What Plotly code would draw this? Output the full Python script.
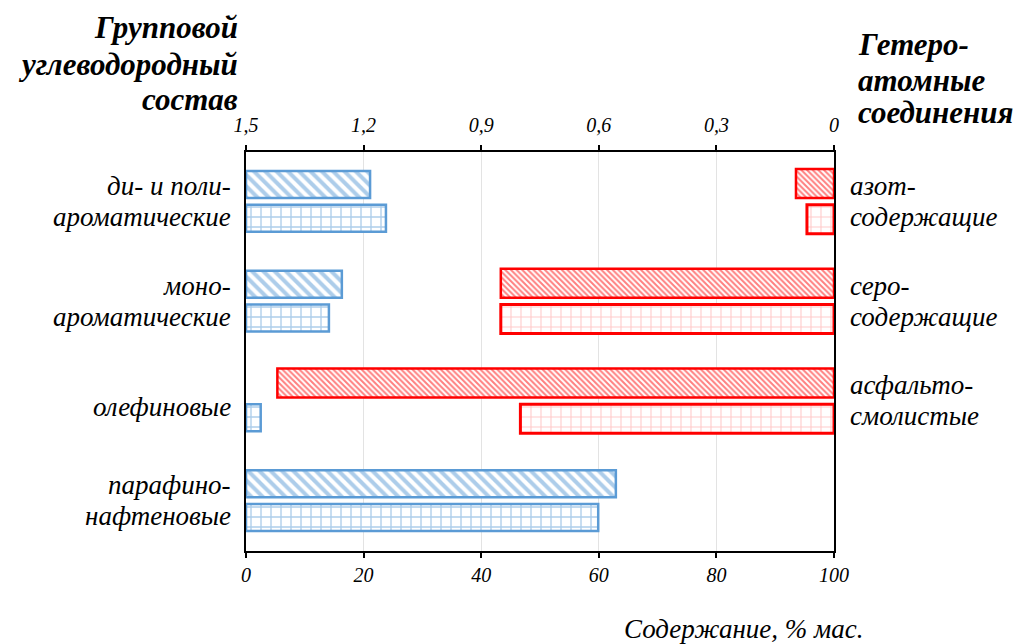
import plotly.graph_objects as go

# Hydrocarbon group composition (bottom axis, % mass)
hc_labels = [["ди- и поли-", "ароматические"], ["моно-", "ароматические"], ["олефиновые"], ["парафино-", "нафтеновые"]]
hc_series1 = [21.1, 16.3, None, 62.9]   # hatched
hc_series2 = [23.8, 14.1, 2.5, 59.9]    # grid

# Heteroatomic compounds (top axis, % mass)
het_labels = [["азот-", "содержащие"], ["серо-", "содержащие"], ["асфальто-", "смолистые"]]
het_series1 = [0.097, 0.85, 1.42]       # hatched
het_series2 = [0.069, 0.85, 0.80]       # grid

bottom_ticks = [0, 20, 40, 60, 80, 100]
top_ticks = [1.5, 1.2, 0.9, 0.6, 0.3, 0]
top_ticktext = ["1,5", "1,2", "0,9", "0,6", "0,3", "0"]

title_left = ["Групповой", "углеводородный", "состав"]
title_right = ["Гетеро-", "атомные", "соединения"]
x_title = "Содержание, % мас."

BLUE = "#5B9BD5"
RED = "#FF0000"
FONT = "Liberation Serif"

L, R, T, B = 246, 834, 152, 551
W_FIG, H_FIG = 1019, 644


def px(x):
    return (x - L) / (R - L)


def py(y):
    return (B - y) / (B - T)


pos_hc = list(range(len(hc_labels)))
pos_het = list(range(len(het_labels)))

W = 0.27
fig = go.Figure()
fig.add_trace(go.Bar(
    y=pos_hc, x=hc_series1, orientation="h", width=W, offset=-0.31,
    marker=dict(color="white", line=dict(color=BLUE, width=2.5),
                pattern=dict(shape="\\", fgcolor=BLUE, bgcolor="white", size=8, solidity=0.5)),
    xaxis="x", yaxis="y", showlegend=False))
fig.add_trace(go.Bar(
    y=pos_hc, x=hc_series2, orientation="h", width=W, offset=0.03,
    marker=dict(color="white", line=dict(color=BLUE, width=2.5),
                pattern=dict(shape="+", fgcolor=BLUE, bgcolor="white", size=10, solidity=0.25)),
    xaxis="x", yaxis="y", showlegend=False))
fig.add_trace(go.Bar(
    y=pos_het, x=het_series1, orientation="h", width=W + 0.02, offset=-0.33,
    marker=dict(color="white", line=dict(color=RED, width=2.5),
                pattern=dict(shape="\\", fgcolor=RED, bgcolor="white", size=4, solidity=0.5)),
    xaxis="x2", yaxis="y", showlegend=False))
fig.add_trace(go.Bar(
    y=pos_het, x=het_series2, orientation="h", width=W + 0.02, offset=0.03,
    marker=dict(color="white", line=dict(color=RED, width=3),
                pattern=dict(shape="+", fgcolor="rgba(255,60,60,0.55)", bgcolor="white", size=10, solidity=0.2)),
    xaxis="x2", yaxis="y", showlegend=False))

LBL = 27
annotations = []


def add_lines(lines, i, x, anchor, xshift):
    if len(lines) == 1:
        shifts = [-6]
    else:
        shifts = [16, -15]
    for ln, s in zip(lines, shifts):
        annotations.append(dict(
            x=x, xref="paper", y=i, yref="y", xanchor=anchor, yanchor="middle",
            xshift=xshift, yshift=s, text="<i>" + ln + "</i>", showarrow=False,
            font=dict(family=FONT, size=LBL, color="black")))


for i, lines in enumerate(hc_labels):
    add_lines(lines, i, 0, "right", -13)
for i, lines in enumerate(het_labels):
    add_lines(lines, i, 1, "left", 14)

for ln, yc in zip(title_left, [27, 64, 99]):
    annotations.append(dict(
        x=px(240), xref="paper", y=py(yc), yref="paper", xanchor="right", yanchor="middle",
        text="<b><i>" + ln + "</i></b>", showarrow=False,
        font=dict(family=FONT, size=31, color="black")))
for ln, yc in zip(title_right, [45, 80, 113]):
    annotations.append(dict(
        x=px(856), xref="paper", y=py(yc), yref="paper", xanchor="left", yanchor="middle",
        text="<b><i>" + ln + "</i></b>", showarrow=False,
        font=dict(family=FONT, size=31, color="black")))
annotations.append(dict(
    x=px(865), xref="paper", y=py(629), yref="paper", xanchor="right", yanchor="middle",
    text="<i>" + x_title + "</i>", showarrow=False,
    font=dict(family=FONT, size=LBL, color="black")))

fig.update_layout(
    width=W_FIG, height=H_FIG,
    margin=dict(l=L, r=W_FIG - R, t=T, b=H_FIG - B, pad=0),
    paper_bgcolor="white", plot_bgcolor="white",
    barmode="overlay",
    separators=", ",
    xaxis=dict(range=[0, 100], tickvals=bottom_ticks, showgrid=True, gridcolor="#E3E3E3",
               gridwidth=1, zeroline=False, showline=True, linecolor="black", linewidth=2,
               ticks="outside", ticklen=5, tickcolor="black", tickwidth=2,
               tickfont=dict(family=FONT, size=20, color="black", style="italic"),
               side="bottom"),
    xaxis2=dict(range=[1.5, 0], tickvals=top_ticks, ticktext=top_ticktext,
                overlaying="x", side="top", showgrid=False, zeroline=False,
                showline=True, linecolor="black", linewidth=2,
                ticks="outside", ticklen=5, tickcolor="black", tickwidth=2,
                ticklabelstandoff=5,
                tickfont=dict(family=FONT, size=20, color="black", style="italic")),
    yaxis=dict(range=[3.5, -0.5], showticklabels=False, showgrid=False, zeroline=False,
               showline=True, linecolor="black", linewidth=2, mirror=True, ticks=""),
    annotations=annotations,
)

fig.write_html("out.html", config={"displayModeBar": False},
               post_script="document.body.style.margin='0px';")
